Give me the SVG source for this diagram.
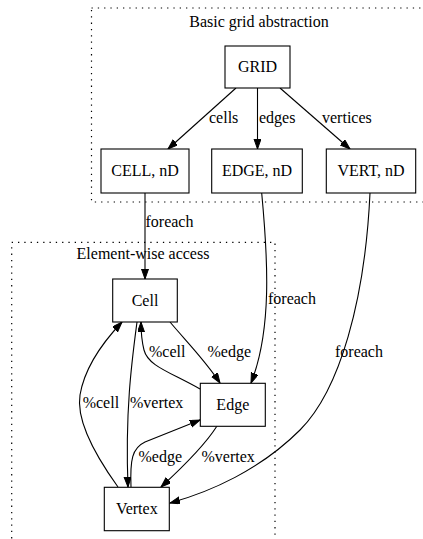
<svg xmlns="http://www.w3.org/2000/svg" width="423" height="539" viewBox="0 0 423 539">
<style>
text{font-family:"Liberation Serif","Times New Roman",serif;font-size:16px;fill:#000}
.c{text-anchor:middle}
.node rect{fill:#fff;stroke:#000;stroke-width:1.1}
.cluster{fill:none;stroke:#000;stroke-width:1.2;stroke-dasharray:1.3,5}
.edges path{fill:none;stroke:#000;stroke-width:1.1;marker-end:url(#arr)}
</style>
<defs>
<marker id="arr" markerUnits="userSpaceOnUse" markerWidth="11" markerHeight="8" refX="10" refY="3.5" orient="auto" viewBox="0 0 11 8">
<path d="M0,0 L10,3.5 L0,7 z" fill="#000" stroke="#000" stroke-width="1"/>
</marker>
</defs>
<rect width="423" height="539" fill="#fff"/>
<g id="cluster_basic">
<rect class="cluster" x="91.5" y="8" width="340" height="194"/>
<text class="c" x="259" y="27">Basic grid abstraction</text>
</g>
<g id="cluster_element">
<rect class="cluster" x="11.7" y="242.3" width="263.3" height="310"/>
<text class="c" x="143" y="259">Element-wise access</text>
</g>
<g class="edges" id="connectors">
<path d="M236,88 L168,149"/>
<path d="M257.5,88 L257.5,149"/>
<path d="M280,88 L350,149"/>
<path d="M145,193 L145,279"/>
<path d="M261.7,193 C268,260 272,330 251,383"/>
<path d="M370,193 C365,300 340,390 300,430 C260,470 210,492 170,503"/>
<path d="M170,322 C185,340 205,360 220,383"/>
<path d="M200,389 C170,372 148,366 144,350 C142,342 141,335 141,322"/>
<path d="M118,487 C95,455 76,420 80,395 C85,365 105,340 122,322"/>
<path d="M137,322 C132,360 125,410 128,487"/>
<path d="M131,487 C130,460 132,448 145,442 L200,420"/>
<path d="M217,426 C205,445 185,465 161,487"/>
</g>
<g id="edge_labels">
<text x="209" y="123">cells</text>
<text x="259" y="123">edges</text>
<text x="322" y="123">vertices</text>
<text x="145.5" y="227">foreach</text>
<text x="268" y="304">foreach</text>
<text x="335" y="357">foreach</text>
<text x="149" y="357">%cell</text>
<text x="207.5" y="357">%edge</text>
<text x="82.7" y="408">%cell</text>
<text x="130" y="408">%vertex</text>
<text x="138.5" y="462">%edge</text>
<text x="201.5" y="462">%vertex</text>
</g>
<g class="node" id="GRID"><rect x="225" y="46" width="65" height="42"/><text class="c" x="257.5" y="72">GRID</text></g>
<g class="node" id="CELL_nD"><rect x="101" y="149" width="88" height="44"/><text class="c" x="145" y="176">CELL, nD</text></g>
<g class="node" id="EDGE_nD"><rect x="211.7" y="149" width="90.6" height="44"/><text class="c" x="257" y="176">EDGE, nD</text></g>
<g class="node" id="VERT_nD"><rect x="326.3" y="149" width="89.4" height="44"/><text class="c" x="371" y="176">VERT, nD</text></g>
<g class="node" id="Cell"><rect x="112.7" y="279" width="64.6" height="43"/><text class="c" x="145" y="306">Cell</text></g>
<g class="node" id="Edge"><rect x="200.3" y="383.3" width="65" height="43"/><text class="c" x="232.8" y="410">Edge</text></g>
<g class="node" id="Vertex"><rect x="104.3" y="487.3" width="65" height="43.4"/><text class="c" x="136.8" y="514">Vertex</text></g>
</svg>
